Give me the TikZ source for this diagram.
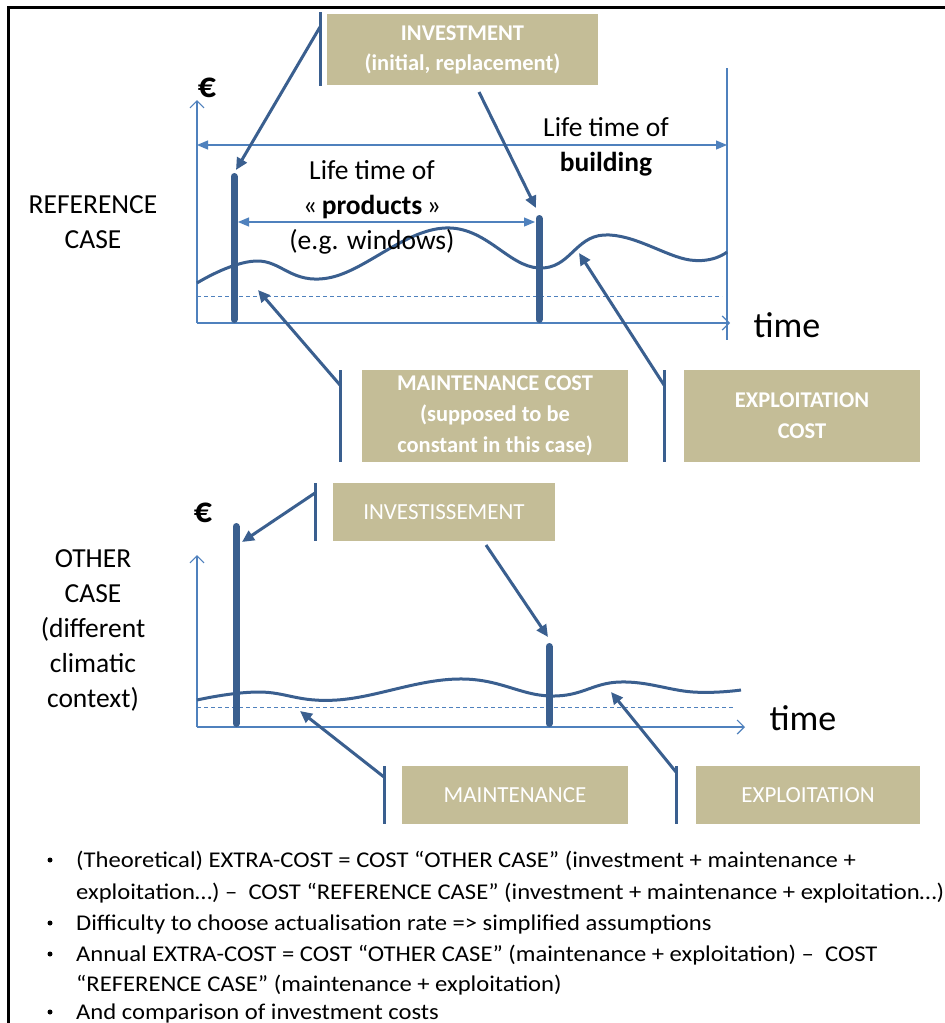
\documentclass[tikz,border=0pt]{standalone}
\usepackage{fontspec}
\setmainfont{Carlito}
\newfontfamily\bulfont[FakeStretch=1.095]{Carlito}
\usetikzlibrary{arrows.meta}
\definecolor{tanbox}{HTML}{C4BD97}
\definecolor{dkblue}{HTML}{3A5F8F}
\definecolor{ltblue}{HTML}{4F81BD}
\tikzset{
 box/.style={fill=tanbox, text=white, align=center, inner sep=0pt, font=\fontsize{23}{31}\selectfont},
 callout/.style={dkblue, line width=3pt},
 calloutarrow/.style={dkblue, line width=3pt, -{Triangle[length=12pt,width=11pt]}},
 bar/.style={dkblue, line width=7pt, line cap=round},
 axis/.style={ltblue, line width=1.2pt, -{Straight Barb[length=7pt,width=14pt]}},
 span/.style={ltblue, line width=1.2pt, {Triangle[length=11pt,width=9pt]}-{Triangle[length=11pt,width=9pt]}},
 lbl/.style={font=\fontsize{27.5}{35}\selectfont, align=center, inner sep=0pt},
 curve/.style={dkblue, line width=3pt},
 baseline/.style={ltblue, line width=1pt, dash pattern=on 4pt off 3pt},
 bul/.style={anchor=base west, inner sep=0pt, font=\bulfont\fontsize{22.5}{26}\selectfont},
 dot/.style={circle, fill=black, inner sep=0pt, minimum size=5pt},
 euro/.style={font=\fontsize{36}{36}\selectfont\bfseries, inner sep=0pt},
 timel/.style={font=\fontsize{36}{36}\selectfont, inner sep=0pt}
}
\begin{document}
\begin{tikzpicture}[x=1pt,y=-1pt]
\useasboundingbox (0,0) rectangle (945,1023);
\fill[white] (0,0) rectangle (945,1023);
% frame
\coordinate (fa) at (8.5,1023);
\coordinate (fb) at (8.5,7);
\coordinate (fc) at (945,7);
\draw[line width=3pt] (fa)--(fb)--(fc);

%================ TOP: REFERENCE CASE
\node[lbl] (refcase) at (93,222) {REFERENCE\\CASE};
\node[euro] (euro1) at (207,88) {€};
% axes
\coordinate (o1) at (197,323);
\coordinate (y1) at (197,100);
\coordinate (x1) at (730,323);
\draw[axis] (o1)--(y1);
\draw[axis] (o1)--(x1);
\node[timel] (time1) at (787,325) {time};
% right limit
\coordinate (r1a) at (727,68);
\coordinate (r1b) at (727,340);
\draw[ltblue, line width=1.2pt] (r1a)--(r1b);
% building lifetime
\coordinate (bl) at (197,145);
\coordinate (br) at (727,145);
\draw[span] (bl)--(br);
\node[lbl] (lifeb) at (606,147) {Life time of\\\textbf{building}};
% baseline dashed
\coordinate (d1a) at (197,296);
\coordinate (d1b) at (722,296);
\draw[baseline] (d1a)--(d1b);
% curve
\draw[curve] plot[smooth, tension=0.7] coordinates {(197,283) (256,261) (328,278) (445,228) (539,268) (604,235) (690,260) (727,252)};
% bars
\coordinate (b1t) at (234,176.5);
\coordinate (b1b) at (234,319.5);
\coordinate (b2t) at (539,218.5);
\coordinate (b2b) at (539,319.5);
\draw[bar] (b1t)--(b1b);
\draw[bar] (b2t)--(b2b);
% products lifetime
\coordinate (pl) at (238,222);
\coordinate (pr) at (535,222);
\draw[span] (pl)--(pr);
\node[lbl] (lifep) at (372,207) {Life time of\\«\,\textbf{products}\,»\\(e.g. windows)};

% INVESTMENT callout
\node[box, minimum width=271pt, minimum height=71pt, font=\fontsize{22.5}{30}\selectfont\bfseries] (inv) at (462.5,49.5) {INVESTMENT\\(initial, replacement)};
\coordinate (ia) at (320,12);
\coordinate (ib) at (320,86);
\coordinate (ic) at (320,27);
\coordinate (it1) at (236,170);
\draw[callout] (ia)--(ib);
\draw[calloutarrow] (ic)--(it1);
\coordinate (is2) at (479,92);
\coordinate (it2) at (536,208);
\draw[calloutarrow] (is2)--(it2);

% MAINTENANCE COST callout
\node[box, minimum width=266pt, minimum height=92pt, font=\fontsize{22.5}{31}\selectfont\bfseries] (mc) at (495,416) {MAINTENANCE COST\\(supposed to be\\constant in this case)};
\coordinate (ma) at (340,370);
\coordinate (mb) at (340,462);
\coordinate (mcn) at (340,385);
\coordinate (mt) at (258,290);
\draw[callout] (ma)--(mb);
\draw[calloutarrow] (mcn)--(mt);

% EXPLOITATION COST callout
\node[box, minimum width=236pt, minimum height=92pt, font=\fontsize{22.5}{31}\selectfont\bfseries] (ec) at (802,416) {EXPLOITATION\\COST};
\coordinate (ea) at (664,370);
\coordinate (eb) at (664,462);
\coordinate (ecn) at (664,385);
\coordinate (et) at (579,253);
\draw[callout] (ea)--(eb);
\draw[calloutarrow] (ecn)--(et);

%================ BOTTOM: OTHER CASE
\node[lbl] (othercase) at (93,630) {OTHER\\CASE\\(different\\climatic\\context)};
\node[euro] (euro2) at (203,513) {€};
\coordinate (o2) at (197,727);
\coordinate (y2) at (197,555);
\coordinate (x2) at (745,727);
\draw[axis] (o2)--(y2);
\draw[axis] (o2)--(x2);
\node[timel] (time2) at (803,718) {time};
\coordinate (d2a) at (197,707);
\coordinate (d2b) at (735,707);
\draw[baseline] (d2a)--(d2b);
\draw[curve] plot[smooth, tension=0.7] coordinates {(197,700) (259,692) (337,700) (458,679) (551,696) (620,682) (693,692) (741,690)};
\coordinate (c1t) at (236,526.5);
\coordinate (c1b) at (236,723.5);
\coordinate (c2t) at (549,646.5);
\coordinate (c2b) at (549,723.5);
\draw[bar] (c1t)--(c1b);
\draw[bar] (c2t)--(c2b);

% INVESTISSEMENT callout
\node[box, minimum width=222pt, minimum height=58pt] (invs) at (444,512) {INVESTISSEMENT};
\coordinate (sa) at (315,483);
\coordinate (sb) at (315,541);
\coordinate (sc) at (315,493);
\coordinate (st1) at (242,542);
\draw[callout] (sa)--(sb);
\draw[calloutarrow] (sc)--(st1);
\coordinate (ss2) at (486,545);
\coordinate (st2) at (548,637);
\draw[calloutarrow] (ss2)--(st2);

% MAINTENANCE callout
\node[box, minimum width=226pt, minimum height=58pt] (mnt) at (515,795) {MAINTENANCE};
\coordinate (na) at (384,766);
\coordinate (nb) at (384,824);
\coordinate (nc) at (384,777);
\coordinate (nt) at (300,711);
\draw[callout] (na)--(nb);
\draw[calloutarrow] (nc)--(nt);

% EXPLOITATION callout
\node[box, minimum width=224pt, minimum height=58pt] (expl) at (808,795) {EXPLOITATION};
\coordinate (xa) at (676,766);
\coordinate (xb) at (676,824);
\coordinate (xc) at (676,772);
\coordinate (xt) at (611,692);
\draw[callout] (xa)--(xb);
\draw[calloutarrow] (xc)--(xt);

%================ BULLETS
\node[dot] (bu1) at (50,860) {};
\node[bul] (l1) at (76,867) {(Theoretical) EXTRA-COST = COST “OTHER CASE” (investment + maintenance +};
\node[bul] (l2) at (76,899) {exploitation…) –\ \ COST “REFERENCE CASE” (investment + maintenance + exploitation…)};
\node[dot] (bu2) at (50,923) {};
\node[bul] (l3) at (76,930) {Difficulty to choose actualisation rate => simplified assumptions};
\node[dot] (bu3) at (50,954) {};
\node[bul] (l4) at (76,961) {Annual EXTRA-COST = COST “OTHER CASE” (maintenance + exploitation) –\ \ COST};
\node[bul] (l5) at (76,991) {“REFERENCE CASE” (maintenance + exploitation)};
\node[dot] (bu4) at (50,1012) {};
\node[bul] (l6) at (76,1019) {And comparison of investment costs};
\end{tikzpicture}
\end{document}
